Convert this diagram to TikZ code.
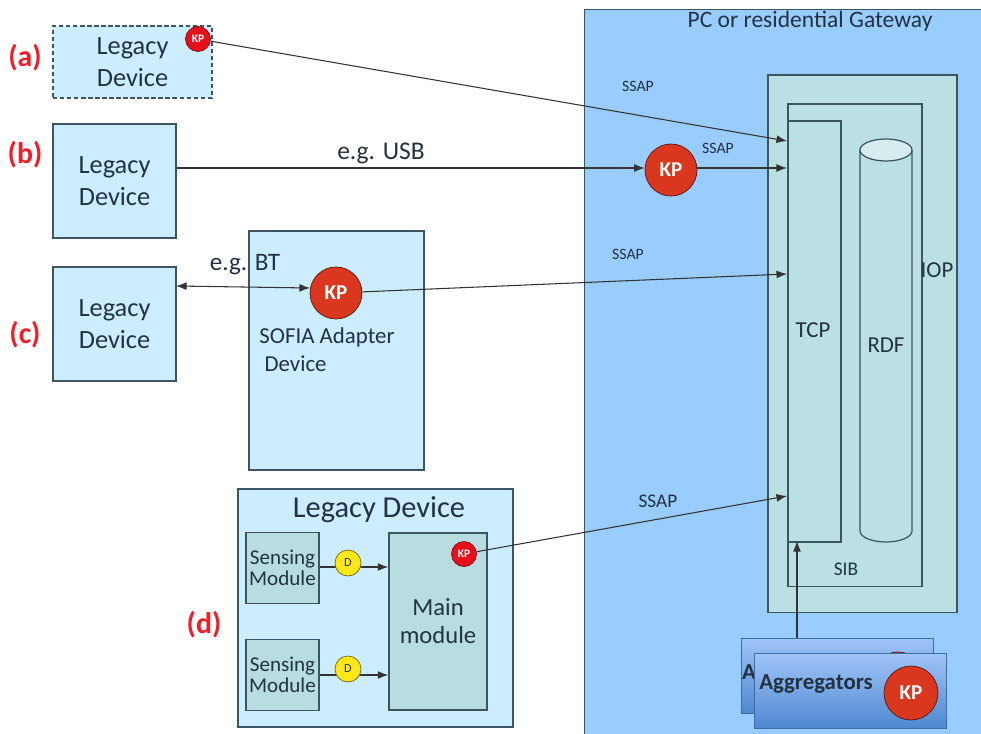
\documentclass[tikz,border=0pt]{standalone}
\usepackage{fontspec}
\setmainfont{Carlito}
\usetikzlibrary{calc, arrows.meta}
\definecolor{GateBlue}{RGB}{153,204,255}
\definecolor{DevBlue}{RGB}{204,236,255}
\definecolor{TealBox}{RGB}{187,224,227}
\definecolor{ModTeal}{RGB}{183,221,224}
\definecolor{EdgeDark}{RGB}{60,85,95}
\definecolor{InkDark}{RGB}{35,50,65}
\definecolor{LabelRed}{RGB}{240,30,40}
\definecolor{KpBig}{RGB}{217,56,30}
\definecolor{KpSmall}{RGB}{230,16,26}
\definecolor{DotYellow}{RGB}{255,232,26}
\definecolor{AggTop}{RGB}{160,196,248}
\definecolor{AggBot}{RGB}{78,136,207}
\tikzset{>={Latex[length=6pt,width=4.5pt]}}
\tikzset{
  devbox/.style={draw=EdgeDark, line width=0.7pt, fill=DevBlue, inner sep=0, align=center, text=InkDark, font=\fontsize{15}{18}\selectfont},
  tealbox/.style={draw=EdgeDark, line width=0.9pt, fill=TealBox, inner sep=0},
  modbox/.style={draw=EdgeDark, line width=0.8pt, fill=ModTeal, inner sep=0, align=center, text=InkDark},
  kpbig/.style={circle, draw=black!60!KpBig, fill=KpBig, minimum size=1.04cm, inner sep=0, text=white, font=\bfseries\fontsize{12}{12}\selectfont},
  kpsmall/.style={circle, draw=black!40!KpSmall, fill=KpSmall, minimum size=0.5cm, inner sep=0, text=white, font=\bfseries\fontsize{6.5}{7}\selectfont},
  dot/.style={circle, draw=black!55!DotYellow, fill=DotYellow, minimum size=0.52cm, inner sep=0, text=InkDark, font=\fontsize{7}{7}\selectfont},
  tag/.style={text=LabelRed, inner sep=0, font=\bfseries\fontsize{17}{17}\selectfont},
  ssap/.style={text=InkDark, inner sep=0, font=\fontsize{9}{9}\selectfont},
  txt/.style={text=InkDark, inner sep=0, align=left, font=\fontsize{13}{16}\selectfont},
  agg/.style={draw=AggBot!80!black, line width=0.5pt, top color=AggTop, bottom color=AggBot, inner sep=0, minimum width=3.84cm, minimum height=1.5cm},
  link/.style={->, draw=black!80, line width=0.6pt}
}
\begin{document}
\begin{tikzpicture}[x=0.02cm,y=-0.02cm]
  \clip (0,0) rectangle (981,734);
  \fill[white] (0,0) rectangle (981,734);

  % GATEWAY
  \node[draw=EdgeDark, line width=0.5pt, fill=GateBlue, inner sep=0, minimum width=8.2cm, minimum height=15cm, anchor=north west] (gateway) at (584,9) {};
  \node[txt, font=\fontsize{13.4}{14}\selectfont] (gatewaytxt) at (810,21) {PC or residential Gateway};
  \node[tealbox, minimum width=3.78cm, minimum height=10.76cm, anchor=north west] (iop) at (767,74) {};
  \node[tealbox, minimum width=2.68cm, minimum height=9.66cm, anchor=north west] (sib) at (787,103) {};
  \node[tealbox, minimum width=1.06cm, minimum height=8.42cm, anchor=north west] (tcp) at (787,120) {};
  \node[txt] (tcptxt) at (813,330) {TCP};
  \draw[draw=EdgeDark, line width=0.7pt, fill=TealBox] (860,150) -- (860,531) arc[start angle=180, end angle=0, x radius=26, y radius=11] -- (912,150);
  \draw[draw=EdgeDark, line width=0.7pt, fill=TealBox!60!white] (886,150) ellipse[x radius=26, y radius=11];
  \node[txt] (rdftxt) at (886,345) {RDF};
  \node[txt] (ioptxt) at (937,270) {IOP};
  \node[txt, font=\fontsize{11}{12}\selectfont] (sibtxt) at (846,569) {SIB};
  \coordinate (Ta) at (787,141);
  \coordinate (Tb) at (787,168);
  \coordinate (Tc) at (787,274);
  \coordinate (Td) at (787,496);
  \coordinate (Te) at (797,541);
  \coordinate (Be) at (797,638);
  \coordinate (Cb) at (176,286);
  \coordinate (Cc) at (310,288);

  % DEVICES
  \node[devbox, dash pattern=on 2.5pt off 1.5pt, line width=0.9pt, minimum width=3.18cm, minimum height=1.44cm] (deva) at (132.5,62) {Legacy\\Device};
  \node[devbox, minimum width=2.46cm, minimum height=2.28cm] (devb) at (114.5,181) {Legacy\\Device};
  \node[devbox, minimum width=2.46cm, minimum height=2.28cm] (devc) at (114.5,324) {Legacy\\Device};
  \node[devbox, minimum width=3.5cm, minimum height=4.78cm] (adapter) at (336.5,350.5) {};
  \node[txt] (adaptertxt) at (327,350) {SOFIA Adapter\\\ Device};
  \node[tag] (taga) at (25,58) {(a)};
  \node[tag] (tagb) at (25,155) {(b)};
  \node[tag] (tagc) at (25,335) {(c)};
  \node[tag] (tagd) at (204,625) {(d)};

  % KP
  \node[kpsmall] (kpa) at (198,39) {KP};
  \node[kpbig] (kpb) at (671,170) {KP};
  \node[kpbig] (kpc) at (336,293) {KP};
  \draw[link] (kpa) -- (Ta);
  \draw[link] (devb.east |- Tb) -- (kpb.west |- Tb);
  \draw[link] (kpb.east |- Tb) -- (Tb);
  \draw[link, <->] (Cb) -- (Cc);
  \draw[link] (kpc) -- (Tc);
  \node[txt, font=\fontsize{14.5}{16}\selectfont] (usb) at (381,153) {e.g. USB};
  \node[txt, font=\fontsize{14.3}{16}\selectfont] (bt) at (245,265) {e.g. BT};
  \node[ssap] (ssapa) at (638,86) {SSAP};
  \node[ssap] (ssapb) at (718,148) {SSAP};
  \node[ssap] (ssapc) at (628,254) {SSAP};
  \node[ssap, font=\fontsize{11}{11}\selectfont] (ssapd) at (658,501) {SSAP};

  % LEGACY DEVICE (d)
  \node[devbox, minimum width=5.5cm, minimum height=4.76cm] (devd) at (375.5,608) {};
  \node[txt, font=\fontsize{17.3}{18}\selectfont] (devdtxt) at (379,510) {Legacy Device};
  \node[modbox, minimum width=1.96cm, minimum height=3.54cm, font=\fontsize{14}{16}\selectfont] (mainmod) at (438,621.5) {Main\\module};
  \node[modbox, minimum width=1.46cm, minimum height=1.42cm, font=\fontsize{12}{12}\selectfont] (sensa) at (282.5,568) {Sensing\\Module};
  \node[modbox, minimum width=1.46cm, minimum height=1.42cm, font=\fontsize{12}{12}\selectfont] (sensb) at (282.5,675) {Sensing\\Module};
  \draw[link] (sensa.east |- 0,567) -- (mainmod.west |- 0,567);
  \draw[link] (sensb.east |- 0,675) -- (mainmod.west |- 0,675);
  \node[dot] (dota) at (348,563) {D};
  \node[dot] (dotb) at (348,669) {D};
  \node[kpsmall] (kpd) at (464,554) {KP};
  \draw[link] (kpd) -- (Td);

  % AGGREGATORS
  \draw[link] (Be) -- (Te);
  \node[agg, anchor=north west] (aggback) at (741,638) {};
  \node[txt, font=\bfseries\fontsize{13}{14}\selectfont] (aggbacktxt) at (749,672) {A};
  \node[kpbig] (kpback) at (898,678) {};
  \node[agg, anchor=north west] (aggfront) at (754,653) {};
  \node[txt, font=\bfseries\fontsize{13}{14}\selectfont] (aggtxt) at (816,684) {Aggregators};
  \node[kpbig, minimum size=1.08cm] (kpagg) at (911,693) {KP};
\end{tikzpicture}
\end{document}
